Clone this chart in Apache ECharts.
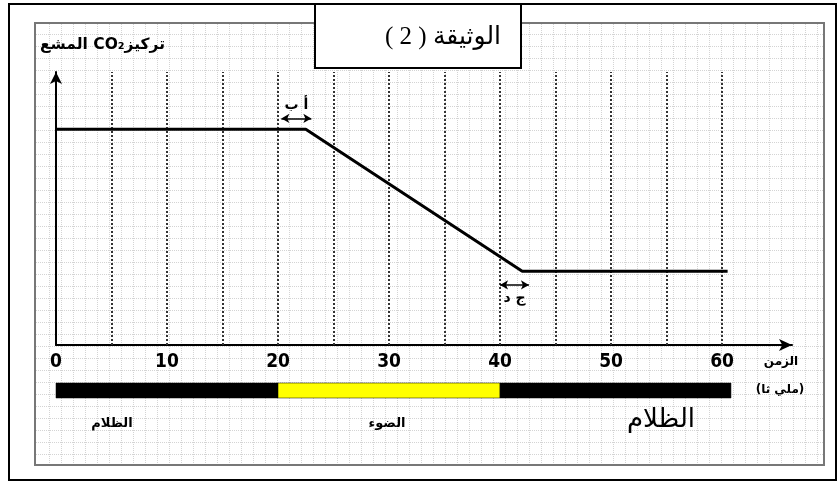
<!DOCTYPE html>
<html>
<head>
<meta charset="utf-8">
<script src="https://cdn.jsdelivr.net/npm/echarts@6/dist/echarts.min.js"></script>
<style>html,body{margin:0;padding:0;background:#fff;}#chart{width:840px;height:483px;}</style>
</head>
<body>
<div id="chart"></div>
<script>
// ---- data ----
const timeTicks = [0, 10, 20, 30, 40, 50, 60];
const guideTimes = [5, 10, 15, 20, 25, 30, 35, 40, 45, 50, 55, 60];
const co2Time = [0, 22.5, 42, 60.5];
const co2Level = [79, 79, 27, 27];
const lagAB = [20.3, 23];
const lagABLevel = 83;
const lagCD = [40, 42.6];
const lagCDLevel = 22;
const phaseNames = ['الظلام', 'الضوء', 'الظلام'];
const phaseStart = [0, 20, 40];
const phaseEnd = [20, 40, 60.8];
const phaseKind = ['dark', 'light', 'dark'];

// ---- styles ----
const phaseFill = { dark: '#000000', light: '#ffff00' };
const arabicFont = '"DejaVu Sans", sans-serif';
const X_MAX = 66.3;

const chart = echarts.init(document.getElementById('chart'), null, { renderer: 'canvas' });

// background decoration: frame, panel, fine graph-paper grid
const graphics = [];
graphics.push({ type: 'rect', z: -10, shape: { x: 9, y: 4, width: 827, height: 476 }, style: { fill: '#fff', stroke: '#000', lineWidth: 2 } });
for (let x = 49; x < 824; x += 12) {
  graphics.push({ type: 'line', z: -9, silent: true, shape: { x1: x + 0.5, y1: 24, x2: x + 0.5, y2: 465 }, style: { stroke: '#d4d4d4', lineWidth: 1, lineDash: [1, 1] } });
}
for (let y = 34; y < 465; y += 12) {
  graphics.push({ type: 'line', z: -9, silent: true, shape: { x1: 36, y1: y + 0.5, x2: 823, y2: y + 0.5 }, style: { stroke: '#d4d4d4', lineWidth: 1, lineDash: [1, 1] } });
}
graphics.push({ type: 'rect', z: -8, shape: { x: 35, y: 23, width: 789, height: 442 }, style: { fill: null, stroke: '#777', lineWidth: 2 } });
// title box
graphics.push({ type: 'rect', z: 10, shape: { x: 315, y: 4, width: 206, height: 64 }, style: { fill: '#fff', stroke: '#000', lineWidth: 2 } });
graphics.push({ type: 'text', z: 11, style: { x: 443, y: 37, text: '\u202Bالوثيقة ( 2 )\u202C', font: '25px "Liberation Serif", ' + arabicFont, fill: '#000', align: 'center', verticalAlign: 'middle' } });
// axis names
graphics.push({ type: 'text', z: 11, style: { x: 40, y: 45, text: '\u202BتركيزCO₂ المشع\u202C', font: 'bold 15.5px ' + arabicFont, fill: '#000', align: 'left', verticalAlign: 'middle' } });
graphics.push({ type: 'text', z: 11, style: { x: 781, y: 362, text: 'الزمن', font: 'bold 12px ' + arabicFont, fill: '#000', align: 'center', verticalAlign: 'middle' } });
graphics.push({ type: 'text', z: 11, style: { x: 780, y: 390, text: '(ملي ثا)', font: 'bold 12px ' + arabicFont, fill: '#000', align: 'center', verticalAlign: 'middle' } });
// phase labels
graphics.push({ type: 'text', z: 11, style: { x: 112, y: 424, text: phaseNames[0], font: 'bold 13px ' + arabicFont, fill: '#000', align: 'center', verticalAlign: 'middle' } });
graphics.push({ type: 'text', z: 11, style: { x: 387, y: 424, text: phaseNames[1], font: 'bold 13px ' + arabicFont, fill: '#000', align: 'center', verticalAlign: 'middle' } });
graphics.push({ type: 'text', z: 11, style: { x: 661, y: 420, text: phaseNames[2], font: '26px "Liberation Serif", ' + arabicFont, fill: '#000', align: 'center', verticalAlign: 'middle' } });

const option = {
  animation: false,
  backgroundColor: '#fff',
  graphic: graphics,
  grid: [
    { left: 56, top: 72, width: 736, height: 273, containLabel: false },
    { left: 56, top: 383, width: 736, height: 15, containLabel: false }
  ],
  xAxis: [
    {
      type: 'value', gridIndex: 0, min: 0, max: X_MAX,
      axisLine: { show: true, onZero: true, symbol: ['none', 'arrow'], symbolSize: [9, 13], lineStyle: { color: '#000', width: 2 } },
      axisTick: { show: false },
      splitLine: { show: false },
      axisLabel: {
        customValues: timeTicks, margin: 8,
        fontFamily: '"DejaVu Sans Condensed", "Liberation Sans Narrow", sans-serif',
        fontWeight: 'bold', fontSize: 19, color: '#000'
      }
    },
    { type: 'value', gridIndex: 1, min: 0, max: X_MAX, show: false }
  ],
  yAxis: [
    {
      type: 'value', gridIndex: 0, min: 0, max: 100,
      axisLine: { show: true, symbol: ['none', 'arrow'], symbolSize: [9, 12], lineStyle: { color: '#000', width: 2 } },
      axisTick: { show: false }, axisLabel: { show: false }, splitLine: { show: false }
    },
    { type: 'value', gridIndex: 1, min: 0, max: 1, show: false }
  ],
  series: [
    {
      name: 'guides', type: 'line', xAxisIndex: 0, yAxisIndex: 0, data: [], z: 1,
      markLine: {
        silent: true, symbol: ['none', 'none'], animation: false,
        label: { show: false },
        lineStyle: { color: '#333', width: 2, type: [2, 2] },
        data: guideTimes.map(t => ({ xAxis: t }))
      }
    },
    {
      name: 'co2', type: 'line', xAxisIndex: 0, yAxisIndex: 0, z: 5,
      showSymbol: false, symbol: 'none',
      lineStyle: { color: '#000', width: 3 },
      data: co2Time.map((t, i) => [t, co2Level[i]])
    },
    {
      name: 'lags', type: 'line', xAxisIndex: 0, yAxisIndex: 0, data: [], z: 6,
      markLine: {
        silent: true, symbol: ['arrow', 'arrow'], symbolSize: [7, 8], animation: false,
        lineStyle: { color: '#000', width: 1.5, type: 'solid' },
        data: [
          [
            { coord: [lagAB[0], lagABLevel], label: { show: true, position: 'insideMiddleTop', formatter: 'أ ب', distance: 6, color: '#000', fontWeight: 'bold', fontSize: 14, fontFamily: arabicFont } },
            { coord: [lagAB[1], lagABLevel] }
          ],
          [
            { coord: [lagCD[0], lagCDLevel], label: { show: true, position: 'insideMiddleBottom', formatter: 'ج د', distance: 6, color: '#000', fontWeight: 'bold', fontSize: 14, fontFamily: arabicFont } },
            { coord: [lagCD[1], lagCDLevel] }
          ]
        ]
      }
    },
    {
      name: 'phases', type: 'custom', xAxisIndex: 1, yAxisIndex: 1,
      data: phaseStart.map((s, i) => [s, phaseEnd[i]]),
      renderItem: function (params, api) {
        const a = api.coord([api.value(0), 1]);
        const b = api.coord([api.value(1), 0]);
        return {
          type: 'rect',
          shape: { x: a[0], y: a[1], width: b[0] - a[0], height: b[1] - a[1] },
          style: { fill: phaseFill[phaseKind[params.dataIndex]], stroke: '#000', lineWidth: 0.5 }
        };
      }
    }
  ]
};
chart.setOption(option);
</script>
</body>
</html>
